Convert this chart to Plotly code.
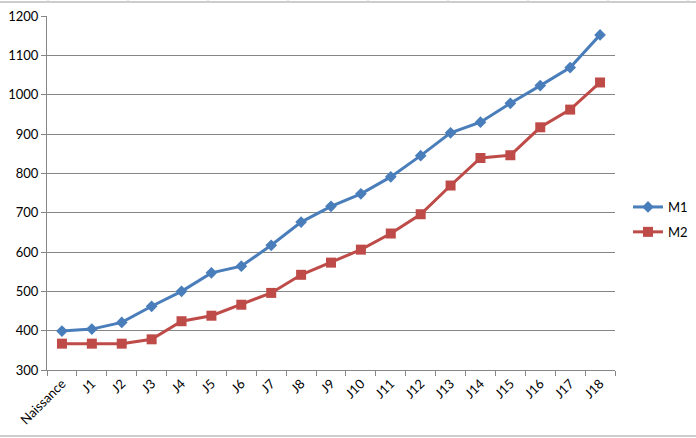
import plotly.graph_objects as go

categories = ["Naissance"] + [f"J{i}" for i in range(1, 19)]
m1 = [399, 404, 421, 462, 500, 547, 564, 617, 676, 716, 748, 791, 845, 903, 930, 978, 1023, 1069, 1152]
m2 = [367, 367, 367, 378, 424, 438, 466, 496, 542, 573, 606, 647, 696, 769, 839, 846, 917, 962, 1031]
y_ticks = [300, 400, 500, 600, 700, 800, 900, 1000, 1100, 1200]

W, H = 696, 438
L, R, T, B = 47, 615, 16, 370

def px_x(x):
    return (x - L) / (R - L)

def px_y(y):
    return (B - y) / (B - T)

fig = go.Figure()
fig.add_trace(go.Scatter(x=categories, y=m1, name="M1", mode="lines+markers", legendgroup="g1",
                         line=dict(color="#4A7EBB", width=3),
                         marker=dict(symbol="diamond", size=9, color="#4A7EBB")))
fig.add_trace(go.Scatter(x=categories, y=m2, name="M2", mode="lines+markers", legendgroup="g2",
                         line=dict(color="#BE4B48", width=3),
                         marker=dict(symbol="square", size=10, color="#BE4B48")))

shapes = [
    dict(type="line", xref="paper", yref="paper", x0=px_x(0), x1=px_x(W), y0=px_y(2), y1=px_y(2),
         line=dict(color="#9a9a9a", width=1)),
    dict(type="line", xref="paper", yref="paper", x0=px_x(0), x1=px_x(W), y0=px_y(436), y1=px_y(436),
         line=dict(color="#9a9a9a", width=1)),
]
for vx in [48, 128, 208, 288, 368, 448, 528, 608, 688]:
    shapes.append(dict(type="line", xref="paper", yref="paper", x0=px_x(vx), x1=px_x(vx),
                       y0=px_y(0), y1=px_y(2), line=dict(color="#c8d4e8", width=1)))

fig.update_layout(
    width=W, height=H,
    margin=dict(l=L, r=W - R, t=T, b=H - B, autoexpand=False),
    paper_bgcolor="white", plot_bgcolor="white",
    font=dict(family="Lato, Liberation Sans, sans-serif", size=12, color="#000000"),
    showlegend=True,
    legend=dict(x=px_x(628), y=px_y(219.5), xanchor="left", yanchor="middle",
                font=dict(size=13), tracegroupgap=5, traceorder="grouped",
                bgcolor="rgba(0,0,0,0)"),
    shapes=shapes,
    xaxis=dict(type="category", range=[-0.5, 18.5], tickangle=-45, automargin=False,
               showgrid=False, showline=True, linecolor="#868686", linewidth=1,
               ticks="outside", ticklen=5, tickcolor="#868686", tickson="boundaries",
               tickfont=dict(size=13)),
    yaxis=dict(range=[300, 1200], tickvals=y_ticks, showgrid=True, gridcolor="#868686", gridwidth=1,
               automargin=False,
               showline=True, linecolor="#868686", linewidth=1, ticks="outside", ticklen=5,
               tickcolor="#868686", zeroline=False, tickfont=dict(size=13)),
)

fig.write_html("out.html", config={"displayModeBar": False},
               post_script="document.body.style.margin='0';document.body.style.overflow='hidden';")
